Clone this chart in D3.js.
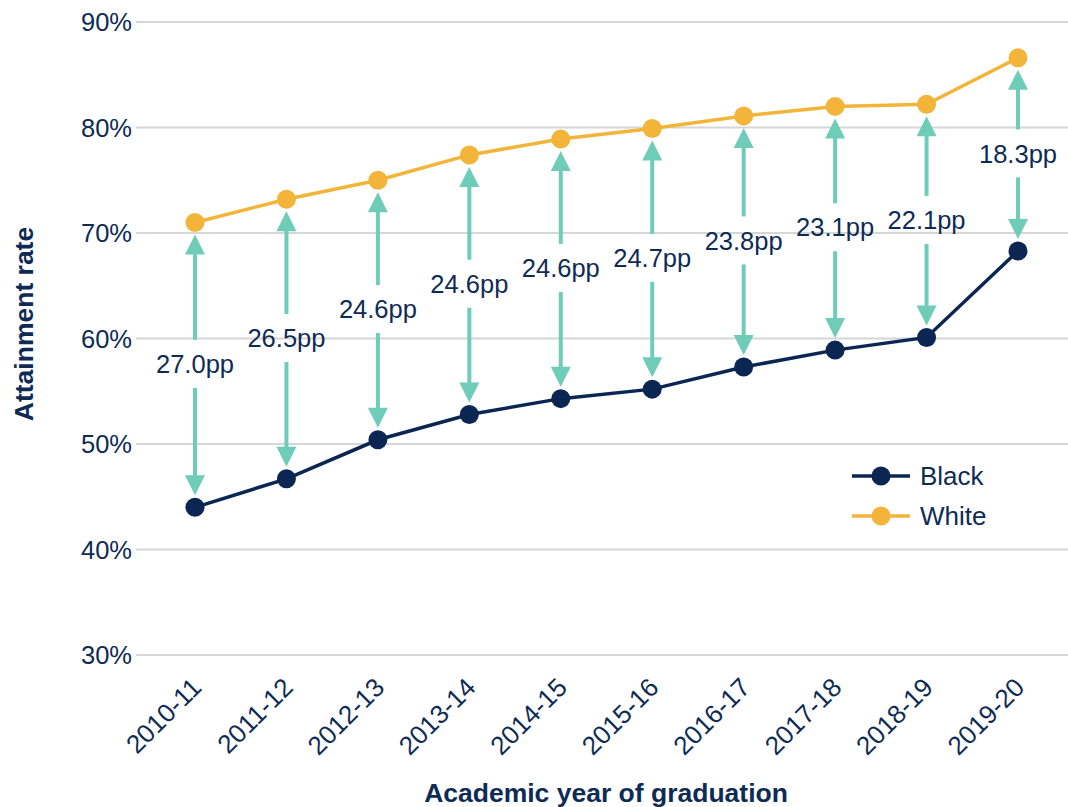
<!DOCTYPE html>
<html>
<head>
<meta charset="utf-8">
<script src="https://cdn.jsdelivr.net/npm/d3@7"></script>
<style>
  html, body { margin: 0; padding: 0; background: #ffffff; }
  svg { display: block; font-family: "Liberation Sans", Arial, sans-serif; }
</style>
</head>
<body>
<svg id="chart" width="1068" height="807"></svg>
<script>
// Academic years of graduation
const years = ["2010-11", "2011-12", "2012-13", "2013-14", "2014-15",
               "2015-16", "2016-17", "2017-18", "2018-19", "2019-20"];
// Attainment rate (%) by ethnic group
const blackRates = [44.0, 46.7, 50.4, 52.8, 54.3, 55.2, 57.3, 58.9, 60.1, 68.3];
const whiteRates = [71.0, 73.2, 75.0, 77.4, 78.9, 79.9, 81.1, 82.0, 82.2, 86.6];
// Gap labels (percentage points)
const gapLabels = ["27.0pp", "26.5pp", "24.6pp", "24.6pp", "24.6pp",
                   "24.7pp", "23.8pp", "23.1pp", "22.1pp", "18.3pp"];
const yTicks = [30, 40, 50, 60, 70, 80, 90];

const navy = "#0b2653";
const textNavy = "#0e2b55";
const orange = "#f2b53a";
const teal = "#6fccb8";
const grid = "#d6d6d6";

const W = 1068, H = 807;
const svg = d3.select("#chart");

const x = d3.scalePoint().domain(years).range([195, 1018]);
const y = d3.scaleLinear().domain([30, 90]).range([655, 22]);

// Horizontal gridlines with percentage labels
const yAxis = svg.append("g").attr("class", "y-axis");
yAxis.selectAll("line").data(yTicks).join("line")
  .attr("x1", 136).attr("x2", W)
  .attr("y1", d => y(d)).attr("y2", d => y(d))
  .attr("stroke", grid).attr("stroke-width", 2);
yAxis.selectAll("text").data(yTicks).join("text")
  .attr("x", 132).attr("y", d => y(d))
  .attr("dy", "0.36em")
  .attr("text-anchor", "end")
  .attr("font-size", 25.5)
  .attr("fill", textNavy)
  .text(d => d + "%");

// Rotated category labels
svg.append("g").attr("class", "x-axis")
  .selectAll("text").data(years).join("text")
  .attr("transform", d => `translate(${x(d) + 8},${689}) rotate(-45)`)
  .attr("text-anchor", "end")
  .attr("font-size", 26)
  .attr("fill", textNavy)
  .text(d => d);

// Axis titles
svg.append("text")
  .attr("transform", `translate(33,324) rotate(-90)`)
  .attr("text-anchor", "middle")
  .attr("font-size", 26.5)
  .attr("font-weight", "bold")
  .attr("fill", textNavy)
  .text("Attainment rate");
svg.append("text")
  .attr("x", 606).attr("y", 802)
  .attr("text-anchor", "middle")
  .attr("font-size", 26.5)
  .attr("font-weight", "bold")
  .attr("fill", textNavy)
  .text("Academic year of graduation");

// Gap arrows between the two series
const gaps = years.map((yr, i) => ({ yr, top: whiteRates[i], bottom: blackRates[i], label: gapLabels[i] }));
const tipOffset = 12, headLen = 20, headHalf = 10, labelGap = 24;
const arrows = svg.append("g").attr("class", "gaps");
gaps.forEach(g => {
  const cx = x(g.yr);
  const yTop = y(g.top) + tipOffset;
  const yBot = y(g.bottom) - tipOffset;
  const yMid = (yTop + yBot) / 2 - 1;
  arrows.append("line")
    .attr("x1", cx).attr("x2", cx)
    .attr("y1", yTop + headLen - 1).attr("y2", yMid - labelGap)
    .attr("stroke", teal).attr("stroke-width", 4);
  arrows.append("line")
    .attr("x1", cx).attr("x2", cx)
    .attr("y1", yMid + labelGap).attr("y2", yBot - headLen + 1)
    .attr("stroke", teal).attr("stroke-width", 4);
  arrows.append("path")
    .attr("d", `M${cx},${yTop} L${cx + headHalf},${yTop + headLen} L${cx - headHalf},${yTop + headLen} Z`)
    .attr("fill", teal);
  arrows.append("path")
    .attr("d", `M${cx},${yBot} L${cx + headHalf},${yBot - headLen} L${cx - headHalf},${yBot - headLen} Z`)
    .attr("fill", teal);
  arrows.append("text")
    .attr("x", cx).attr("y", yMid)
    .attr("dy", "0.36em")
    .attr("text-anchor", "middle")
    .attr("font-size", 25.5)
    .attr("fill", textNavy)
    .text(g.label);
});

// Series lines and markers
const series = [
  { name: "Black", values: blackRates, color: navy },
  { name: "White", values: whiteRates, color: orange }
];
const line = d3.line().x((d, i) => x(years[i])).y(d => y(d));
series.forEach(s => {
  const g = svg.append("g").attr("class", "series");
  g.append("path")
    .attr("d", line(s.values))
    .attr("fill", "none")
    .attr("stroke", s.color)
    .attr("stroke-width", 3.5);
  g.selectAll("circle").data(s.values).join("circle")
    .attr("cx", (d, i) => x(years[i]))
    .attr("cy", d => y(d))
    .attr("r", 9.5)
    .attr("fill", s.color);
});

// Legend
const legend = svg.append("g").attr("class", "legend");
series.forEach((s, i) => {
  const ly = 476 + i * 40;
  legend.append("line")
    .attr("x1", 852).attr("x2", 910)
    .attr("y1", ly).attr("y2", ly)
    .attr("stroke", s.color).attr("stroke-width", 3.5);
  legend.append("circle")
    .attr("cx", 881).attr("cy", ly).attr("r", 9.5)
    .attr("fill", s.color);
  legend.append("text")
    .attr("x", 920).attr("y", ly)
    .attr("dy", "0.36em")
    .attr("font-size", 26)
    .attr("fill", textNavy)
    .text(s.name);
});
</script>
</body>
</html>
